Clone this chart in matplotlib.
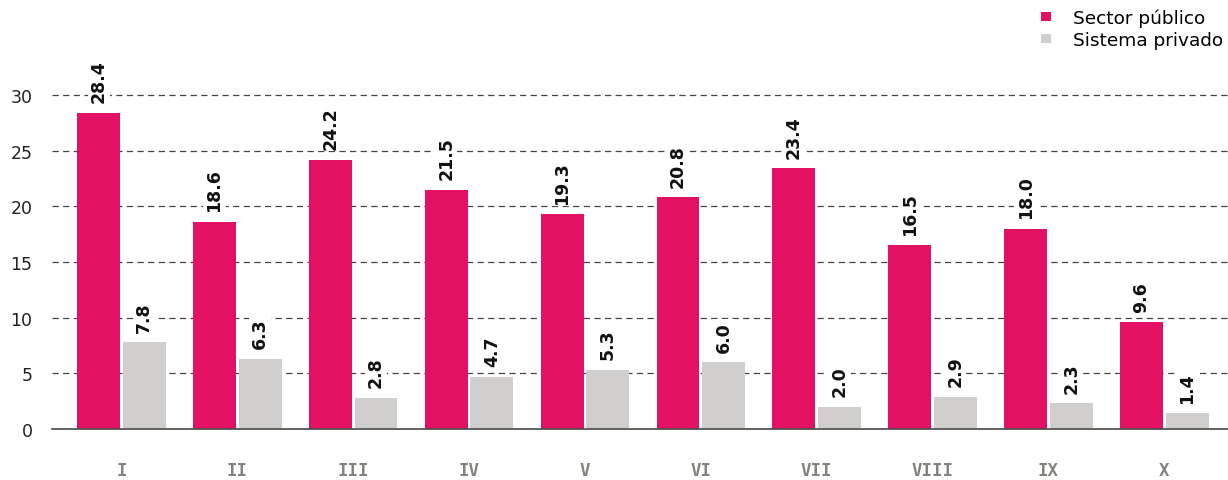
import matplotlib
matplotlib.use("Agg")
import matplotlib.pyplot as plt
import numpy as np

categories = ["I", "II", "III", "IV", "V", "VI", "VII", "VIII", "IX", "X"]
sector_publico = [28.4, 18.6, 24.2, 21.5, 19.3, 20.8, 23.4, 16.5, 18.0, 9.6]
sistema_privado = [7.8, 6.3, 2.8, 4.7, 5.3, 6.0, 2.0, 2.9, 2.3, 1.4]
series_names = ["Sector público", "Sistema privado"]
colors = ["#E31163", "#D0CFCD"]

plt.rcParams['font.family'] = ['DejaVu Sans']
fig = plt.figure(figsize=(12.28, 4.81), dpi=100)
ax = fig.add_axes([0.0423, 0.106, 0.9577, 0.764])

x = np.arange(len(categories))
w = 0.37
gap = 0.012
b1 = ax.bar(x - w/2 - gap, sector_publico, w, color=colors[0], label=series_names[0], zorder=3)
b2 = ax.bar(x + w/2 + gap, sistema_privado, w, color=colors[1], label=series_names[1], zorder=3)

for bars, vals in ((b1, sector_publico), (b2, sistema_privado)):
    for r, v in zip(bars, vals):
        ax.text(r.get_x() + r.get_width()/2, v + 0.95, f"{v:.1f}", rotation=90,
                ha="center", va="bottom", fontsize=12.5, fontweight="bold", color="#111111",
                zorder=4, bbox=dict(facecolor="white", edgecolor="none", pad=1.5))

ax.set_xlim(-0.6, 9.55)
ax.set_ylim(0, 33)
ax.set_yticks([0, 5, 10, 15, 20, 25, 30])
ax.yaxis.grid(True, linestyle=(0, (5, 3.5)), color="#444444", linewidth=0.9, zorder=0)
ax.set_xticks(x)
ax.set_xticklabels(categories, fontweight="bold", color="#85827D", fontsize=12.5,
                   family="DejaVu Sans Mono")
ax.tick_params(axis="x", length=0, pad=23)
ax.tick_params(axis="y", length=0, labelsize=12.5, colors="#222222", pad=14)
for s in ["top", "right", "left"]:
    ax.spines[s].set_visible(False)
ax.spines["bottom"].set_color("#4a4a44")
ax.spines["bottom"].set_linewidth(1.2)
ax.spines["bottom"].set_zorder(5)

leg = fig.legend(handles=[b1, b2], labels=series_names, loc="upper right",
                 bbox_to_anchor=(1.0095, 1.014), frameon=False, fontsize=13.3,
                 handlelength=0.55, handleheight=0.35, handletextpad=1.2, labelspacing=0.22)

fig.savefig("out.png", dpi=100)
